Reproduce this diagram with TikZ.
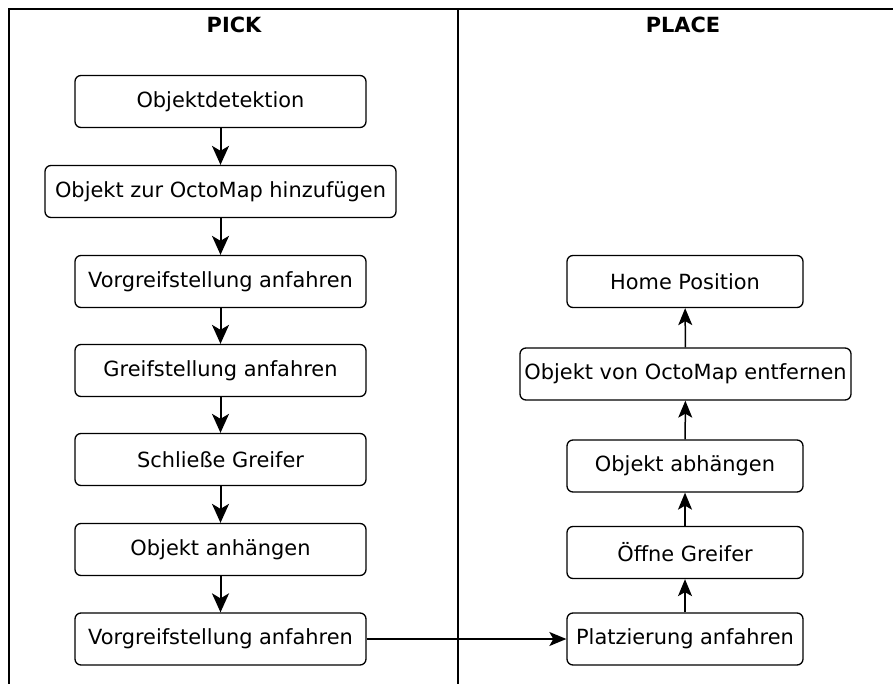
\documentclass[tikz,border=0pt]{standalone}
\usepackage{fontspec}
\setmainfont{DejaVu Sans}
\usetikzlibrary{arrows.meta}

\begin{document}
\begin{tikzpicture}[x=1pt, y=-1pt,
    stepbox/.style={draw, line width=1.3pt, rounded corners=6pt, minimum height=52pt, inner sep=0pt, font=\fontsize{20.9}{25}\selectfont},
    lanetitle/.style={font=\fontsize{20.9}{25}\selectfont\bfseries},
    pickarrow/.style={line width=2pt, -{Stealth[length=19pt,width=17pt,inset=5pt]}},
    placearrow/.style={line width=1.5pt, -{Stealth[length=17pt,width=14pt,inset=4pt]}}]
    \useasboundingbox (0,0) rectangle (893,684);
    % lanes
    \draw[line width=1.5pt] (9,684) -- (9,9) -- (893,9);
    \draw[line width=1.5pt] (458,9) -- (458,684);
    \node[lanetitle] (picktitle) at (234,25) {PICK};
    \node[lanetitle] (placetitle) at (683,25) {PLACE};
    % pick
    \node[stepbox, minimum width=291pt] (detect) at (220.5,101.5) {Objektdetektion};
    \node[stepbox, minimum width=351pt] (octoadd) at (220.5,191.5) {Objekt zur OctoMap hinzufügen};
    \node[stepbox, minimum width=291pt] (pregrasp) at (220.5,281.5) {Vorgreifstellung anfahren};
    \node[stepbox, minimum width=291pt] (grasp) at (220.5,370.5) {Greifstellung anfahren};
    \node[stepbox, minimum width=291pt] (close) at (220.5,459.5) {Schließe Greifer};
    \node[stepbox, minimum width=291pt] (attach) at (220.5,549.5) {Objekt anhängen};
    \node[stepbox, minimum width=291pt] (retreat) at (220.5,639) {Vorgreifstellung anfahren};
    % place
    \node[stepbox, minimum width=236pt] (home) at (685,281.5) {Home Position};
    \node[stepbox, minimum width=331pt] (octoremove) at (685.5,374) {Objekt von OctoMap entfernen};
    \node[stepbox, minimum width=236pt] (detach) at (685,466) {Objekt abhängen};
    \node[stepbox, minimum width=236pt] (open) at (685,552.5) {Öffne Greifer};
    \node[stepbox, minimum width=236pt] (place) at (685,639) {Platzierung anfahren};
    % arrows
    \foreach \a/\b in {detect/octoadd, octoadd/pregrasp, pregrasp/grasp, grasp/close, close/attach, attach/retreat}
        \draw[pickarrow] (\a) -- (\b);
    \foreach \a/\b in {place/open, open/detach, detach/octoremove, octoremove/home}
        \draw[placearrow] (\a) -- (\b);
    \draw[placearrow] (retreat) -- (place);
\end{tikzpicture}
\end{document}
